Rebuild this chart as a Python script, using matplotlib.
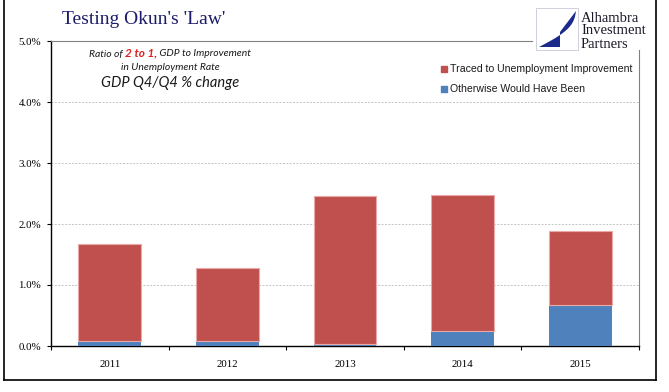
import numpy as np
import matplotlib.pyplot as plt
from matplotlib.patches import Polygon, Rectangle
from matplotlib.lines import Line2D

years = ['2011', '2012', '2013', '2014', '2015']
otherwise = [0.08, 0.08, 0.04, 0.25, 0.67]
total = [1.67, 1.28, 2.46, 2.48, 1.89]
traced = [t - o for t, o in zip(total, otherwise)]
yticks = [0, 1, 2, 3, 4, 5]

red = '#C0504D'
blue = '#4F81BD'
serif = 'Liberation Serif'

W, H = 669, 392
fig = plt.figure(figsize=(W / 100, H / 100), dpi=100)
ax = fig.add_axes([51 / W, 46 / H, 588 / W, 305 / H])

x = np.arange(len(years))
ax.bar(x, otherwise, width=0.535, color=blue, zorder=3)
ax.bar(x, traced, bottom=otherwise, width=0.535, color=red,
       edgecolor='#E9A9A9', linewidth=0.8, zorder=3)

ax.set_xlim(-0.5, 4.5)
ax.set_ylim(0, 5)
ax.set_yticks(yticks)
ax.set_yticklabels(['%.1f%%' % v for v in yticks], fontfamily=serif, fontsize=7.8)
ax.set_xticks(x)
ax.set_xticklabels(years, fontfamily=serif, fontsize=7.8)
ax.set_xticks(np.arange(-0.5, 5, 1), minor=True)
ax.tick_params(axis='x', which='major', length=0, pad=10)
ax.tick_params(axis='x', which='minor', length=3, direction='out', width=0.8)
ax.tick_params(axis='y', length=3, direction='out', width=0.8, pad=4)

for v in yticks[1:-1]:
    ax.axhline(v, color='#C4C4C4', linewidth=0.7, linestyle=(0, (2, 1.5)), zorder=1)

ax.spines['left'].set_linewidth(1.0)
ax.spines['bottom'].set_linewidth(1.0)
ax.spines['top'].set_color('#808080')
ax.spines['top'].set_bounds(-0.5, 3.59)
ax.spines['right'].set_color('#808080')
ax.spines['right'].set_bounds(0, 4.85)

# title
fig.text(62 / W, 1 - 20 / H, "Testing Okun's 'Law'", fontfamily=serif,
         fontsize=14, color='#1C1C6B', va='center', ha='left')

# annotation
ifont = dict(fontfamily='Lato', style='italic', fontsize=7.5, color='#1a1a1a')
t1 = fig.text(89 / W, 1 - 54 / H, 'Ratio of ', va='center', ha='left', **ifont)
t2 = ax.annotate('2 to 1,', xy=(1, 0), xycoords=t1, va='bottom', ha='left',
                 fontfamily='Lato', style='italic', weight='bold', fontsize=8.5, color='#E02020')
ax.annotate(' GDP to Improvement', xy=(1, 0), xycoords=t2, va='bottom', ha='left', **ifont)
fig.text(170 / W, 1 - 67 / H, 'in Unemployment Rate', va='center', ha='center', **ifont)
fig.text(170 / W, 1 - 83 / H, 'GDP Q4/Q4 % change', va='center', ha='center',
         fontfamily='Lato', style='italic', fontsize=10.5, color='#1a1a1a')

# legend
legend_items = [('Traced to Unemployment Improvement', red), ('Otherwise Would Have Been', blue)]
for i, (lab, c) in enumerate(legend_items):
    yy = 1 - (69 + 20 * i) / H
    fig.patches.append(Rectangle((441 / W, yy - 3 / H), 6 / W, 6 / H, color=c,
                                 transform=fig.transFigure))
    fig.text(450 / W, yy, lab, fontfamily='Liberation Sans', fontsize=7.6,
             va='center', ha='left', color='#1a1a1a')

# logo
lx0, ly0, lw, lh = 536, 8, 42, 42
fig.patches.append(Rectangle((lx0 / W, 1 - (ly0 + lh) / H), lw / W, lh / H,
                             facecolor='white', edgecolor='#C8C8D8', linewidth=0.6,
                             transform=fig.transFigure))
s = np.linspace(0, 1, 30)
edge = [(lx0 + lw - 2 - (lw - 5) * v + 10 * np.sin(np.pi * v), ly0 + 3 + (lh - 6) * v) for v in s]
pts = edge + [(lx0 + 24, ly0 + lh - 3), (lx0 + 24, ly0 + 24)]
fig.patches.append(Polygon([(px / W, 1 - py / H) for px, py in pts], closed=True,
                           facecolor='#1B2A8C', edgecolor='none', transform=fig.transFigure))
for i, word in enumerate(['Alhambra', 'Investment', 'Partners']):
    fig.text(581 / W, 1 - (18 + 13 * i) / H, word, fontfamily=serif, fontsize=10.5,
             color='#1a1a2a', va='center', ha='left')

# outer frame
for seg in [((4, 4), (0, 380)), ((656, 656), (0, 380)), ((4, 656), (380, 380))]:
    fig.lines.append(Line2D([v / W for v in seg[0]], [1 - v / H for v in seg[1]],
                            color='black', linewidth=1.2, transform=fig.transFigure))

fig.savefig('out.png', dpi=100)
